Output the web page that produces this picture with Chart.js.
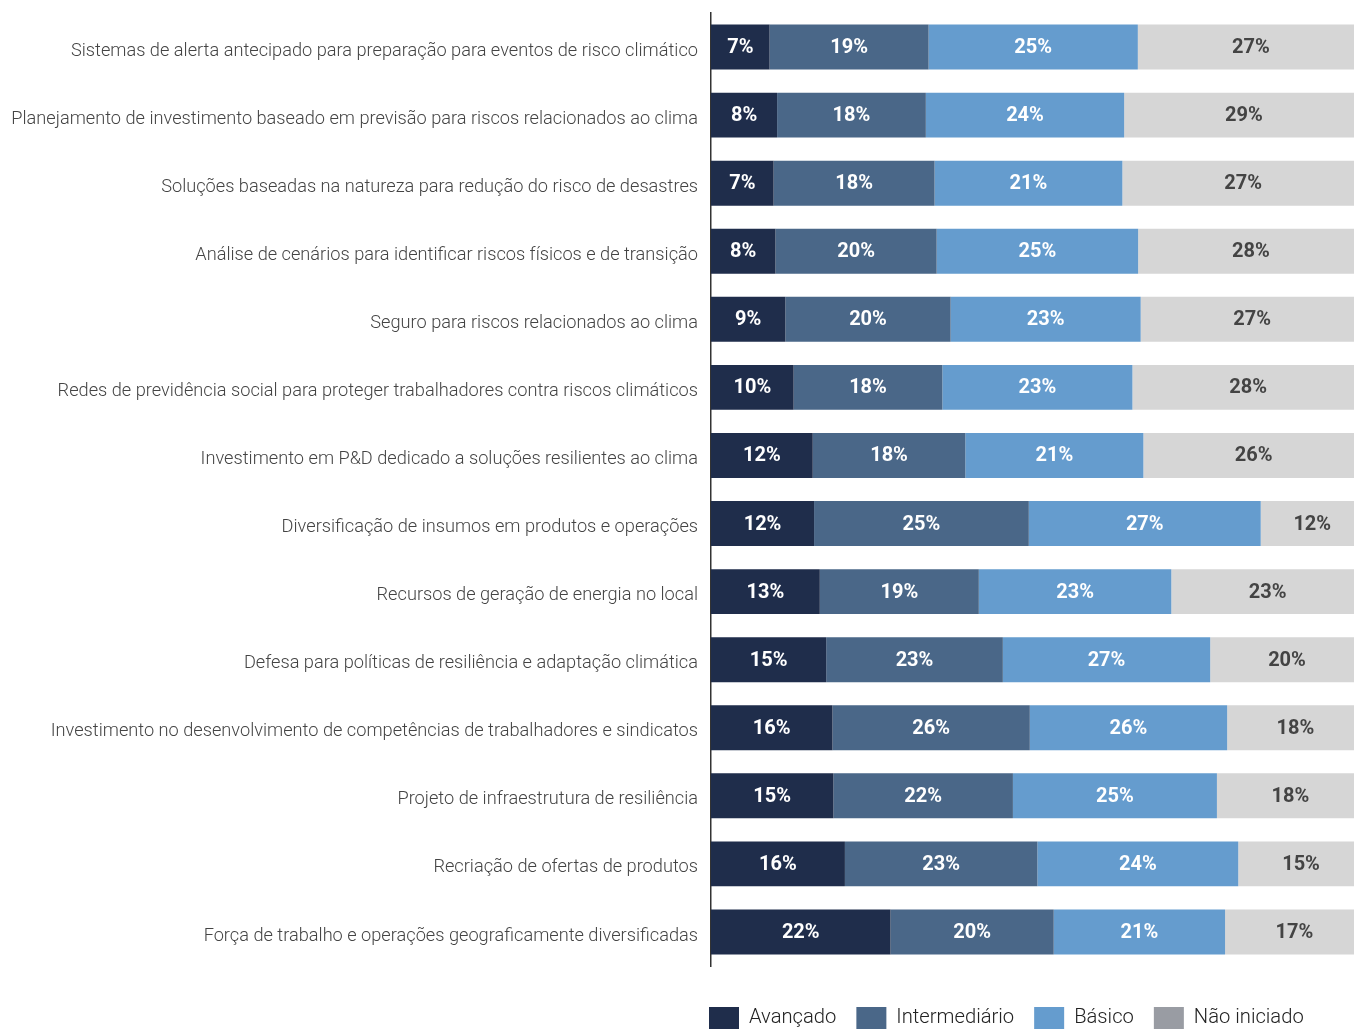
<!DOCTYPE html>
<html>
<head>
<meta charset="utf-8">
<script src="https://cdn.jsdelivr.net/npm/chart.js@4"></script>
<style>
  html, body { margin: 0; padding: 0; background: #fff; }
  #wrap { width: 1354px; height: 1029px; position: relative; }
</style>
</head>
<body>
<div id="wrap"><canvas id="chart"></canvas></div>
<script>
// categories (top to bottom)
const categorias = [
  "Sistemas de alerta antecipado para preparação para eventos de risco climático",
  "Planejamento de investimento baseado em previsão para riscos relacionados ao clima",
  "Soluções baseadas na natureza para redução do risco de desastres",
  "Análise de cenários para identificar riscos físicos e de transição",
  "Seguro para riscos relacionados ao clima",
  "Redes de previdência social para proteger trabalhadores contra riscos climáticos",
  "Investimento em P&D dedicado a soluções resilientes ao clima",
  "Diversificação de insumos em produtos e operações",
  "Recursos de geração de energia no local",
  "Defesa para políticas de resiliência e adaptação climática",
  "Investimento no desenvolvimento de competências de trabalhadores e sindicatos",
  "Projeto de infraestrutura de resiliência",
  "Recriação de ofertas de produtos",
  "Força de trabalho e operações geograficamente diversificadas"
];

const avancado      = [7, 8, 7, 8, 9, 10, 12, 12, 13, 15, 16, 15, 16, 22];
const intermediario = [19, 18, 18, 20, 20, 18, 18, 25, 19, 23, 26, 22, 23, 20];
const basico        = [25, 24, 21, 25, 23, 23, 21, 27, 23, 27, 26, 25, 24, 21];
const naoIniciado   = [27, 29, 27, 28, 27, 28, 26, 12, 23, 20, 18, 18, 15, 17];

const nomes = ["Avançado", "Intermediário", "Básico", "Não iniciado"];
const cores = ["#1f2d4b", "#4a6788", "#659cce", "#d6d6d6"];
const coresLegenda = ["#1f2d4b", "#4a6788", "#659cce", "#999ca3"];
const corTexto = ["#ffffff", "#ffffff", "#ffffff", "#444444"];

const valores = [avancado, intermediario, basico, naoIniciado];

// each row is drawn as a 100% stack (shares of the four answers)
const totais = categorias.map((c, j) => valores.reduce((s, v) => s + v[j], 0));
const partes = valores.map(v => v.map((x, j) => x / totais[j] * 100));

const rotulos = {
  id: "rotulos",
  afterDatasetsDraw(chart) {
    const ctx = chart.ctx;
    ctx.save();
    ctx.font = "bold 20px Roboto, 'DejaVu Sans', sans-serif";
    ctx.textAlign = "center";
    ctx.textBaseline = "middle";
    chart.data.datasets.forEach((ds, i) => {
      const meta = chart.getDatasetMeta(i);
      meta.data.forEach((bar, j) => {
        const cx = (bar.x + bar.base) / 2;
        ctx.fillStyle = corTexto[i];
        ctx.fillText(valores[i][j] + "%", cx, bar.y + 1);
      });
    });
    ctx.restore();
  }
};

const legenda = {
  id: "legenda",
  afterDraw(chart) {
    const ctx = chart.ctx;
    ctx.save();
    ctx.font = "300 20.2px Roboto, 'DejaVu Sans', sans-serif";
    ctx.textBaseline = "middle";
    ctx.textAlign = "left";
    let x = 709;
    const y = 1007;
    nomes.forEach((n, i) => {
      ctx.fillStyle = coresLegenda[i];
      ctx.fillRect(x, y, 30, 23);
      ctx.fillStyle = "#222222";
      ctx.fillText(n, x + 40, y + 11);
      x += 40 + ctx.measureText(n).width + 20;
    });
    ctx.restore();
  }
};

new Chart(document.getElementById("chart"), {
  type: "bar",
  data: {
    labels: categorias,
    datasets: nomes.map((n, i) => ({
      label: n,
      data: partes[i],
      backgroundColor: cores[i],
      borderWidth: 0,
      barPercentage: 0.66,
      categoryPercentage: 1
    }))
  },
  options: {
    indexAxis: "y",
    responsive: true,
    maintainAspectRatio: false,
    animation: false,
    layout: { padding: { top: 13, bottom: 63, left: 0, right: 0 } },
    plugins: {
      legend: { display: false },
      tooltip: { enabled: false }
    },
    scales: {
      x: {
        stacked: true,
        display: false,
        min: 0,
        max: 98.5
      },
      y: {
        stacked: true,
        afterFit: s => { s.width = 711; s.paddingTop = 0; s.paddingBottom = 0; },
        grid: { display: false, drawTicks: false },
        border: { display: true, color: "#333333", width: 1.5 },
        ticks: {
          padding: 13,
          labelOffset: 4,
          color: "#444444",
          font: { family: "Roboto, 'DejaVu Sans', sans-serif", size: 18.2, weight: 300 }
        }
      }
    }
  },
  plugins: [rotulos, legenda]
});
</script>
</body>
</html>
